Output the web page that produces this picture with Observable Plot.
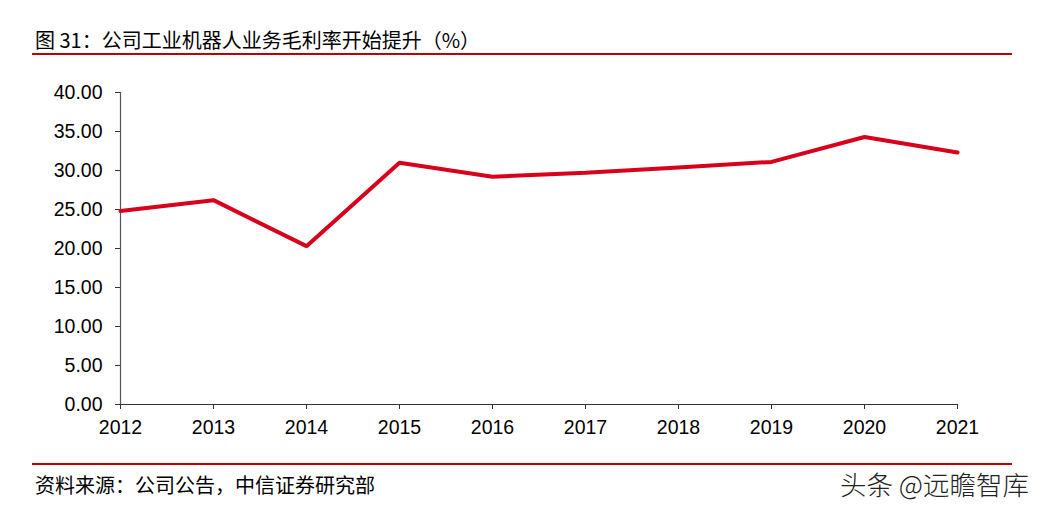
<!DOCTYPE html>
<html><head><meta charset="utf-8">
<script src="https://cdn.jsdelivr.net/npm/d3@7"></script>
<script src="https://cdn.jsdelivr.net/npm/@observablehq/plot@0.6"></script>
<style>
body{margin:0;background:#fff;width:1046px;height:512px;position:relative;overflow:hidden;font-family:"Noto Sans CJK SC","Liberation Sans",sans-serif;}
#title{position:absolute;left:35px;top:26px;font-size:20px;line-height:28px;color:#000;white-space:nowrap;}
#tline{position:absolute;left:32px;top:53px;width:980px;height:2px;background:#c00000;}
#bline{position:absolute;left:32px;top:463px;width:980px;height:2px;background:#c00000;}
#src{position:absolute;left:35px;top:471px;font-size:20px;line-height:28px;color:#000;white-space:nowrap;}
#wm{position:absolute;left:840px;top:466px;font-size:26.5px;line-height:36px;color:#222;white-space:nowrap;font-weight:300;}
#chart{position:absolute;left:0;top:70px;}
</style></head>
<body>
<div id="title">图 31：公司工业机器人业务毛利率开始提升（%）</div>
<div id="tline"></div>
<div id="chart"></div>
<div id="bline"></div>
<div id="src">资料来源：公司公告，中信证券研究部</div>
<div id="wm">头条 @远瞻智库</div>
<script>
const years = [2012,2013,2014,2015,2016,2017,2018,2019,2020,2021];
const margin = [24.8,26.2,20.3,31.0,29.2,29.7,30.4,31.1,34.3,32.3];
const yTicks = [0,5,10,15,20,25,30,35,40];
const data = years.map((y,i)=>({year:y, value:margin[i]}));

const chart = Plot.plot({
  width:1046, height:380,
  marginLeft:120, marginRight:89, marginTop:22, marginBottom:46,
  style:{fontFamily:"Liberation Sans, Arial, sans-serif", fontSize:"19.5px", color:"#000", background:"#fff"},
  x:{domain:[2012,2021], ticks:years, tickFormat:d=>String(d), label:null},
  y:{domain:[0,40], ticks:yTicks, tickFormat:d=>d.toFixed(2), label:null},
  marks:[
    Plot.axisY({ticks:yTicks, tickFormat:d=>d.toFixed(2), tickSize:5, tickPadding:13, label:null, stroke:"#333", fontSize:19.5}),
    Plot.axisX({ticks:years, tickFormat:d=>String(d), tickSize:5, tickPadding:11, label:null, stroke:"#333", fontSize:19.5}),
    Plot.ruleX([2012],{stroke:"#555", strokeWidth:1.2}),
    Plot.ruleY([0],{stroke:"#333", strokeWidth:1.2}),
    Plot.line(data,{x:"year", y:"value", stroke:"#d9001b", strokeWidth:4, strokeLinejoin:"miter"})
  ]
});
document.getElementById("chart").appendChild(chart);
</script>
</body></html>
